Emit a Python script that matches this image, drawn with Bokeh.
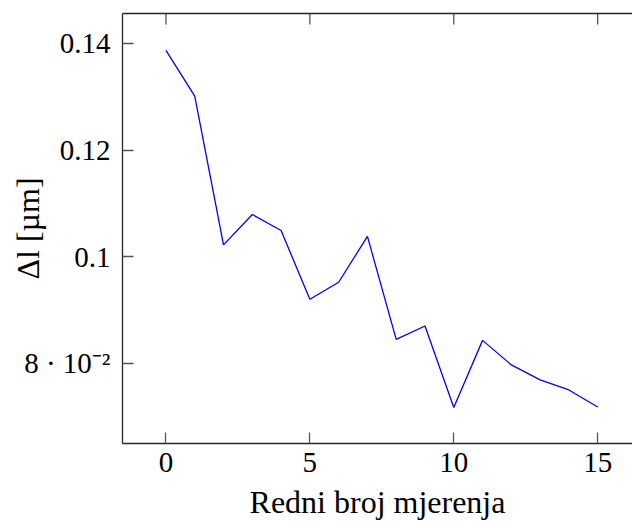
import math
from bokeh.plotting import figure
from bokeh.models import FixedTicker, LinearAxis, Range1d
from bokeh.embed import file_html
from bokeh.resources import INLINE

# data
measurement = list(range(16))
delta_l = [0.1387, 0.1301, 0.1022, 0.1079, 0.1049, 0.0920, 0.0952, 0.1038,
           0.0845, 0.0870, 0.0717, 0.0843, 0.0797, 0.0769, 0.0750, 0.0718]

x_ticks = [0, 5, 10, 15]
y_ticks = [0.08, 0.1, 0.12, 0.14]
y_tick_labels = ["8 · 10⁻²", "0.1", "0.12", "0.14"]
x_title = "Redni broj mjerenja"
y_title = "Δl [µm]"

FONT = "Liberation Serif"
AX = "#262626"
TK = "#555555"

X0, X1 = -1.51, 16.21
Y0, Y1 = 0.06496, 0.1456

p = figure(width=632, height=523,
           x_range=Range1d(X0, X1), y_range=Range1d(Y0, Y1),
           output_backend="svg", toolbar_location=None,
           min_border_left=122, min_border_right=0, min_border_top=13, min_border_bottom=80)
p.outline_line_color = None
p.xgrid.visible = False
p.ygrid.visible = False
p.background_fill_color = "white"
p.border_fill_color = "white"

p.line(measurement, delta_l, line_color="#0000ff", line_width=1.3)

def style(ax):
    ax.axis_line_color = AX
    ax.axis_line_width = 1.3
    ax.major_tick_line_color = TK
    ax.major_tick_line_width = 1.3
    ax.major_tick_in = 11
    ax.major_tick_out = 0
    ax.minor_tick_in = 0
    ax.minor_tick_out = 0
    ax.major_label_text_font = FONT
    ax.major_label_text_font_size = "29px"
    ax.major_label_text_color = "black"
    ax.axis_label_text_font = FONT
    ax.axis_label_text_font_size = "32px"
    ax.axis_label_text_font_style = "normal"
    ax.axis_label_text_color = "black"

xa = p.xaxis[0]
xa.ticker = FixedTicker(ticks=x_ticks)
xa.axis_label = x_title
style(xa)
xa.major_label_standoff = 9
xa.axis_label_standoff = 9

ya = p.yaxis[0]
ya.ticker = FixedTicker(ticks=y_ticks)
ya.major_label_overrides = {t: s for t, s in zip(y_ticks, y_tick_labels)}
ya.axis_label = y_title
style(ya)
ya.major_label_standoff = 12
ya.axis_label_standoff = -25

# top spine (no ticks / labels) and inward top ticks
top = LinearAxis(ticker=FixedTicker(ticks=[]))
style(top)
p.add_layout(top, "above")
p.ray(x=x_ticks, y=[Y1] * len(x_ticks), length=11, length_units="screen",
      angle=-math.pi / 2, line_color=TK, line_width=1.3)

open("out.html", "w").write(file_html(p, INLINE))
